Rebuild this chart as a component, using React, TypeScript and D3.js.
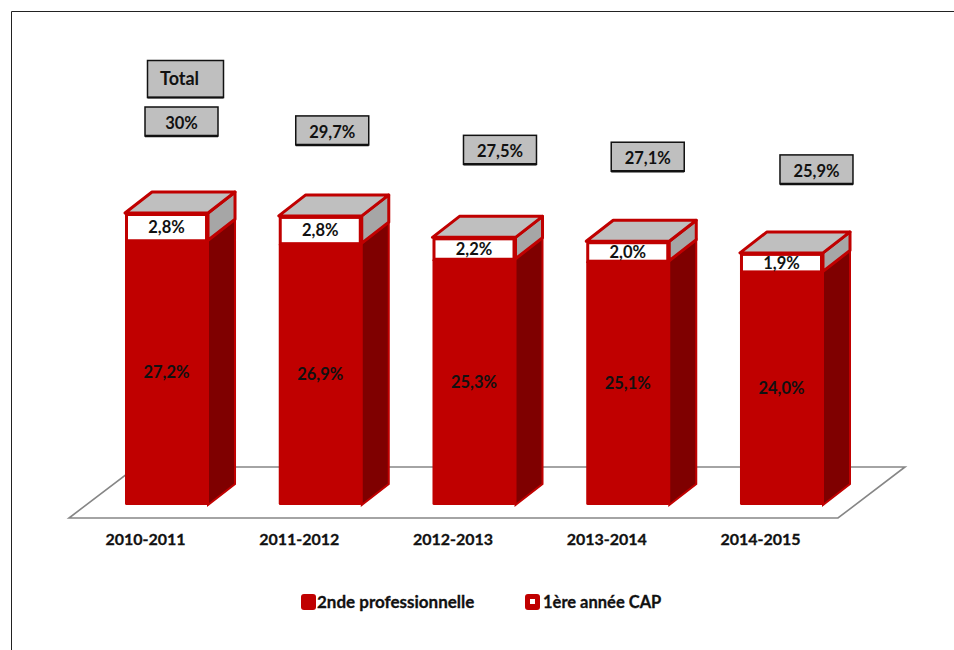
import React from "react";
import * as d3 from "d3";

const years = ["2010-2011", "2011-2012", "2012-2013", "2013-2014", "2014-2015"];
const seconde = [27.2, 26.9, 25.3, 25.1, 24.0];
const cap = [2.8, 2.8, 2.2, 2.0, 1.9];
const totals = ["30%", "29,7%", "27,5%", "27,1%", "25,9%"];
const totalValues = [30, 29.7, 27.5, 27.1, 25.9];
const legendLabels = ["2nde professionnelle", "1ère année CAP"];

// the total boxes were placed by hand in the original, offsets from bar top-left
const boxDx = [20, 17, 31, 25, 40];
const boxDy = [-106, -100, -102, -99, -98];

const width = 954;
const height = 650;
const red = "#C00000";
const font = "Lato, 'Noto Sans', sans-serif";

const fmt = (v: number) => v.toFixed(1).replace(".", ",") + "%";

export default function App() {
  // 3D offset of the bars
  const dx = 27;
  const dy = 21;

  const x = d3.scaleBand().domain(years).range([125, 823]).paddingInner(0.46).paddingOuter(0);
  const bw = x.bandwidth();
  const y = d3.scaleLinear().domain([0, 30]).range([505, 213]);

  const pts = (p: number[][]) => p.map((d) => d.join(",")).join(" ");

  return (
    <svg
      width={width}
      height={height}
      style={{ position: "absolute", left: 0, top: 0, display: "block" }}
      fontFamily={font}
      fontWeight={700}
      fontSize={16.5}
      fill="#111"
      stroke="none"
    >
      <rect width={width} height={height} fill="#fff" />
      {/* frame */}
      <path d={`M11.5,${height} V11.5 H${width}`} fill="none" stroke="#222" strokeWidth={1} />

      {/* floor */}
      <polygon points={pts([[69, 518], [838, 518], [905, 467], [136, 467]])} fill="#fff" stroke="#868686" strokeWidth={1.6} />

      {years.map((yr, i) => {
        const x0 = x(yr) as number;
        const x1 = x0 + bw;
        const yb = y(0);
        const ym = y(seconde[i]);
        const yt = y(seconde[i] + cap[i]);
        const bx = x0 + boxDx[i];
        const by = y(totalValues[i]) + boxDy[i];
        return (
          <g key={yr}>
            {/* lower segment */}
            <polygon points={pts([[x1, yb], [x1 + dx, yb - dy], [x1 + dx, ym - dy], [x1, ym]])} fill="#7F0000" stroke={red} strokeWidth={2} />
            <rect x={x0} y={ym} width={bw} height={yb - ym} rx={1.5} fill={red} />
            {/* upper segment */}
            <polygon points={pts([[x1, ym], [x1 + dx, ym - dy], [x1 + dx, yt - dy], [x1, yt]])} fill="#A6A6A6" stroke={red} strokeWidth={3} strokeLinejoin="round" />
            <polygon points={pts([[x0, yt], [x1, yt], [x1 + dx, yt - dy], [x0 + dx, yt - dy]])} fill="#BFBFBF" stroke={red} strokeWidth={3} strokeLinejoin="round" />
            <rect x={x0 + 1.5} y={yt + 1.5} width={bw - 3} height={ym - yt - 1} fill="#fff" stroke={red} strokeWidth={3} />
            {/* labels */}
            <text x={x0 + bw / 2} y={(ym + yb) / 2} dy="0.35em" textAnchor="middle">{fmt(seconde[i])}</text>
            <text x={x0 + bw / 2} y={(yt + ym) / 2 + 1} dy="0.35em" textAnchor="middle">{fmt(cap[i])}</text>
            <text x={x0 + bw / 2 - 21} y={539} dy="0.35em" textAnchor="middle" fontSize={16} stroke="#111" strokeWidth={0.3}>{yr}</text>
            {/* total box */}
            <rect x={bx} y={by} width={73} height={29} fill="#BFBFBF" stroke="#111" strokeWidth={1.5} />
            <line x1={bx} x2={bx + 73} y1={by + 29} y2={by + 29} stroke="#111" strokeWidth={2.5} />
            <text x={bx + 36.5} y={by + 16} dy="0.35em" textAnchor="middle">{totals[i]}</text>
          </g>
        );
      })}

      {/* "Total" caption box */}
      <rect x={147.5} y={60.5} width={76} height={37} fill="#BFBFBF" stroke="#111" strokeWidth={1.5} />
      <line x1={147.5} x2={223.5} y1={97.5} y2={97.5} stroke="#111" strokeWidth={2} />
      <text x={160} y={79} dy="0.35em" fontSize={18}>Total</text>

      {/* legend */}
      <rect x={301} y={594} width={15} height={16} rx={3} fill={red} />
      <text x={317} y={602} dy="0.35em" fontSize={17} stroke="#111" strokeWidth={0.3}>{legendLabels[0]}</text>
      <rect x={525} y={594} width={15} height={16} rx={3} fill={red} />
      <rect x={530} y={599} width={5} height={5} fill="#fff" />
      <text x={543} y={602} dy="0.35em" fontSize={16.5} stroke="#111" strokeWidth={0.3}>{legendLabels[1]}</text>
    </svg>
  );
}
